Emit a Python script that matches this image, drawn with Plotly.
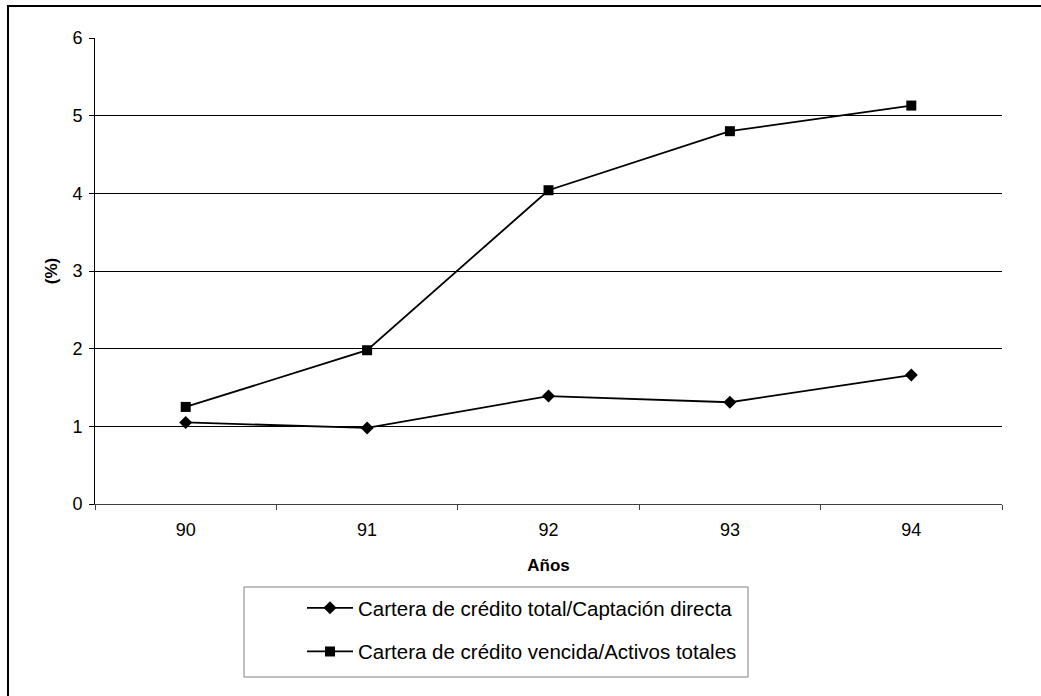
import plotly.graph_objects as go

years = ["90", "91", "92", "93", "94"]
credito_total_captacion = [1.05, 0.98, 1.39, 1.31, 1.66]
vencida_activos = [1.25, 1.98, 4.04, 4.80, 5.13]
series_names = ["Cartera de crédito total/Captación directa",
                "Cartera de crédito vencida/Activos totales"]
y_ticks = [0, 1, 2, 3, 4, 5, 6]

FONT = "Arial, 'Liberation Sans', sans-serif"

fig = go.Figure()
fig.add_trace(go.Scatter(
    x=years, y=credito_total_captacion, name=series_names[0],
    mode="lines+markers", legendgroup="a",
    line=dict(color="black", width=1.8),
    marker=dict(symbol="diamond", size=10, color="black"),
))
fig.add_trace(go.Scatter(
    x=years, y=vencida_activos, name=series_names[1],
    mode="lines+markers", legendgroup="b",
    line=dict(color="black", width=1.8),
    marker=dict(symbol="square", size=10, color="black"),
))

L, R, T, B = 95, 39, 38, 192
W, H = 1041, 696
pw, ph = W - L - R, H - T - B

def px(x):
    return (x - L) / pw

def py(y):
    return (H - B - y) / ph

shapes = [
    # outer frame (left and top)
    dict(type="line", xref="paper", yref="paper", x0=px(8), x1=px(8), y0=py(6), y1=py(700),
         line=dict(color="black", width=2)),
    dict(type="line", xref="paper", yref="paper", x0=px(7), x1=px(1045), y0=py(6), y1=py(6),
         line=dict(color="black", width=2)),
    # legend box
    dict(type="rect", xref="paper", yref="paper", x0=px(244), x1=px(748), y0=py(677), y1=py(587),
         line=dict(color="#808080", width=1), fillcolor="rgba(0,0,0,0)"),
]

fig.update_layout(
    width=W, height=H,
    margin=dict(l=L, r=R, t=T, b=B),
    paper_bgcolor="white", plot_bgcolor="white",
    font=dict(family=FONT, size=18, color="black"),
    showlegend=True,
    legend=dict(
        x=px(302), y=py(588), xanchor="left", yanchor="top",
        bgcolor="rgba(0,0,0,0)", borderwidth=0,
        font=dict(family=FONT, size=20.5, color="black"),
        tracegroupgap=14, itemwidth=46,
    ),
    shapes=shapes,
    xaxis=dict(
        type="category", range=[-0.5, 4.5], showline=True, linecolor="#404040", linewidth=1,
        ticks="outside", ticklen=5, tickcolor="#404040", tickson="boundaries",
        showgrid=False, zeroline=False, ticklabelstandoff=9,
        tickfont=dict(family=FONT, size=18),
        title=dict(text="<b>Años</b>", font=dict(family=FONT, size=17), standoff=20),
    ),
    yaxis=dict(
        range=[0, 6], tickvals=y_ticks, showline=True, linecolor="black", linewidth=1,
        ticks="outside", ticklen=5, tickcolor="black", ticklabelstandoff=3,
        showgrid=True, gridcolor="black", gridwidth=1, zeroline=False,
        tickfont=dict(family=FONT, size=18),
        title=dict(text="<b>(%)</b>", font=dict(family=FONT, size=17), standoff=10),
    ),
)

fig.write_html("out.html")
